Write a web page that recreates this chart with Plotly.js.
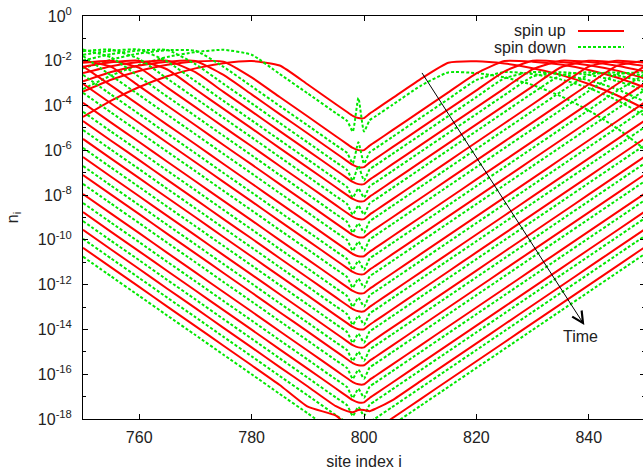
<!DOCTYPE html>
<html>
<head>
<meta charset="utf-8">
<script src="https://cdn.plot.ly/plotly-3.0.1.min.js"></script>
<style>
html,body{margin:0;padding:0;overflow:hidden;background:#fff;}
#chart{width:648px;height:472px;}
</style>
</head>
<body>
<div id="chart"></div>
<script>
// site index grid shared by all profiles
const siteIdx = [750,755,760,765,770,775,780,785,790,795,797,798,799,800,801,802,805,810,815,820,825,830,835,840,845,850];

// log10(n_i), spin up, one row per time step (top = earliest)
const spinUpLog10 = [
 [-4.51,-3.78,-3.17,-2.69,-2.34,-2.11,-2.01,-2.21,-3.06,-3.94,-4.29,-4.46,-4.56,-4.56,-4.36,-4.19,-3.68,-2.83,-2.09,-2.02,-2.12,-2.33,-2.63,-3.04,-3.54,-4.15],
 [-3.38,-2.85,-2.46,-2.18,-2.03,-2.04,-2.74,-3.62,-4.49,-5.37,-5.72,-5.89,-5.99,-5.99,-5.79,-5.62,-5.11,-4.26,-3.41,-2.56,-2.01,-2.04,-2.17,-2.41,-2.75,-3.19],
 [-2.92,-2.50,-2.21,-2.04,-2.01,-2.63,-3.50,-4.38,-5.25,-6.13,-6.48,-6.65,-6.75,-6.75,-6.55,-6.38,-5.87,-5.02,-4.17,-3.32,-2.47,-2.00,-2.05,-2.20,-2.44,-2.79],
 [-2.55,-2.24,-2.06,-2.00,-2.51,-3.39,-4.26,-5.14,-6.01,-6.89,-7.24,-7.41,-7.51,-7.51,-7.31,-7.14,-6.63,-5.78,-4.93,-4.08,-3.23,-2.38,-2.00,-2.06,-2.22,-2.48],
 [-2.27,-2.07,-2.00,-2.39,-3.27,-4.15,-5.02,-5.90,-6.77,-7.65,-8.00,-8.17,-8.27,-8.27,-8.07,-7.90,-7.39,-6.54,-5.69,-4.84,-3.99,-3.14,-2.30,-2.00,-2.07,-2.24],
 [-2.09,-2.00,-2.32,-3.20,-4.07,-4.95,-5.82,-6.70,-7.57,-8.45,-8.80,-8.97,-9.07,-9.07,-8.87,-8.70,-8.19,-7.34,-6.49,-5.64,-4.79,-3.94,-3.09,-2.26,-2.00,-2.08],
 [-2.00,-2.27,-3.13,-4.01,-4.88,-5.76,-6.63,-7.51,-8.38,-9.26,-9.61,-9.78,-9.88,-9.88,-9.68,-9.51,-9.00,-8.15,-7.30,-6.45,-5.60,-4.75,-3.90,-3.05,-2.23,-2.00],
 [-2.25,-3.11,-3.98,-4.86,-5.73,-6.61,-7.48,-8.36,-9.23,-10.11,-10.46,-10.63,-10.73,-10.73,-10.53,-10.36,-9.85,-9.00,-8.15,-7.30,-6.45,-5.60,-4.75,-3.90,-3.05,-2.23],
 [-3.03,-3.91,-4.78,-5.66,-6.53,-7.41,-8.28,-9.16,-10.03,-10.91,-11.26,-11.43,-11.53,-11.53,-11.33,-11.16,-10.65,-9.80,-8.95,-8.10,-7.25,-6.40,-5.55,-4.70,-3.85,-3.00],
 [-3.88,-4.76,-5.63,-6.51,-7.38,-8.26,-9.13,-10.01,-10.88,-11.76,-12.11,-12.28,-12.38,-12.38,-12.18,-12.01,-11.50,-10.65,-9.80,-8.95,-8.10,-7.25,-6.40,-5.55,-4.70,-3.85],
 [-4.69,-5.57,-6.44,-7.32,-8.19,-9.07,-9.94,-10.82,-11.69,-12.57,-12.92,-13.09,-13.19,-13.19,-12.99,-12.82,-12.31,-11.46,-10.61,-9.76,-8.91,-8.06,-7.21,-6.36,-5.51,-4.66],
 [-5.49,-6.37,-7.24,-8.12,-8.99,-9.87,-10.74,-11.62,-12.49,-13.37,-13.72,-13.89,-13.99,-13.99,-13.79,-13.62,-13.11,-12.26,-11.41,-10.56,-9.71,-8.86,-8.01,-7.16,-6.31,-5.46],
 [-6.30,-7.18,-8.05,-8.93,-9.80,-10.68,-11.55,-12.43,-13.30,-14.18,-14.53,-14.70,-14.80,-14.80,-14.60,-14.43,-13.92,-13.07,-12.22,-11.37,-10.52,-9.67,-8.82,-7.97,-7.12,-6.27],
 [-7.10,-7.98,-8.85,-9.73,-10.60,-11.48,-12.35,-13.23,-14.10,-14.98,-15.33,-15.50,-15.60,-15.60,-15.40,-15.23,-14.72,-13.87,-13.02,-12.17,-11.32,-10.47,-9.62,-8.77,-7.92,-7.07],
 [-7.95,-8.83,-9.70,-10.58,-11.45,-12.33,-13.20,-14.08,-14.95,-15.83,-16.18,-16.35,-16.45,-16.45,-16.25,-16.08,-15.57,-14.72,-13.87,-13.02,-12.17,-11.32,-10.47,-9.62,-8.77,-7.92],
 [-8.76,-9.64,-10.51,-11.39,-12.26,-13.14,-14.01,-14.89,-15.76,-16.64,-16.99,-17.16,-17.26,-17.26,-17.06,-16.89,-16.38,-15.53,-14.68,-13.83,-12.98,-12.13,-11.28,-10.43,-9.58,-8.73],
 [-9.55,-10.43,-11.30,-12.18,-13.05,-13.93,-14.80,-15.68,-16.55,-17.43,-17.65,-17.70,-17.60,-17.60,-17.65,-17.55,-17.17,-16.32,-15.47,-14.62,-13.77,-12.92,-12.07,-11.22,-10.37,-9.52],
 [-10.35,-11.23,-12.10,-12.98,-13.85,-14.73,-15.60,-16.48,-17.45,-17.85,-18.30,-18.75,-18.85,-18.85,-18.65,-18.48,-17.97,-17.12,-16.27,-15.42,-14.57,-13.72,-12.87,-12.02,-11.17,-10.32]
];

// log10(n_i), spin down, one row per time step
const spinDownLog10 = [
 [-3.26,-2.66,-2.18,-1.83,-1.61,-1.51,-1.73,-2.59,-3.46,-4.34,-4.69,-5.16,-3.66,-5.16,-4.66,-4.49,-3.98,-3.13,-2.52,-2.55,-2.74,-3.08,-3.58,-4.22,-5.01,-5.96],
 [-2.34,-1.95,-1.67,-1.53,-1.55,-2.27,-3.14,-4.02,-4.89,-5.77,-6.12,-6.59,-5.64,-6.59,-6.09,-5.92,-5.41,-4.56,-3.71,-2.86,-2.50,-2.59,-2.83,-3.22,-3.76,-4.46],
 [-1.99,-1.70,-1.54,-1.52,-2.15,-3.03,-3.90,-4.78,-5.65,-6.53,-6.88,-7.35,-6.70,-7.35,-6.85,-6.68,-6.17,-5.32,-4.47,-3.62,-2.78,-2.50,-2.61,-2.87,-3.27,-3.83],
 [-1.73,-1.55,-1.50,-2.04,-2.91,-3.79,-4.66,-5.54,-6.41,-7.29,-7.64,-8.11,-7.71,-8.11,-7.61,-7.44,-6.93,-6.08,-5.23,-4.38,-3.53,-2.71,-2.51,-2.63,-2.90,-3.33],
 [-1.57,-1.50,-1.92,-2.80,-3.67,-4.55,-5.42,-6.30,-7.17,-8.05,-8.40,-8.87,-8.47,-8.87,-8.37,-8.20,-7.69,-6.84,-5.99,-5.14,-4.29,-3.44,-2.65,-2.51,-2.65,-2.94],
 [-1.50,-1.85,-2.72,-3.60,-4.47,-5.35,-6.22,-7.10,-7.97,-8.85,-9.20,-9.67,-9.27,-9.67,-9.17,-9.00,-8.49,-7.64,-6.79,-5.94,-5.09,-4.24,-3.39,-2.62,-2.52,-2.67],
 [-1.79,-2.66,-3.53,-4.41,-5.28,-6.16,-7.03,-7.91,-8.78,-9.66,-10.01,-10.48,-10.08,-10.48,-9.98,-9.81,-9.30,-8.45,-7.60,-6.75,-5.90,-5.05,-4.20,-3.35,-2.60,-2.52],
 [-2.63,-3.51,-4.38,-5.26,-6.13,-7.01,-7.88,-8.76,-9.63,-10.51,-10.86,-11.33,-10.93,-11.33,-10.83,-10.66,-10.15,-9.30,-8.45,-7.60,-6.75,-5.90,-5.05,-4.20,-3.35,-2.60],
 [-3.43,-4.31,-5.18,-6.06,-6.93,-7.81,-8.68,-9.56,-10.43,-11.31,-11.66,-12.13,-11.73,-12.13,-11.63,-11.46,-10.95,-10.10,-9.25,-8.40,-7.55,-6.70,-5.85,-5.00,-4.15,-3.30],
 [-4.28,-5.16,-6.03,-6.91,-7.78,-8.66,-9.53,-10.41,-11.28,-12.16,-12.51,-12.98,-12.58,-12.98,-12.48,-12.31,-11.80,-10.95,-10.10,-9.25,-8.40,-7.55,-6.70,-5.85,-5.00,-4.15],
 [-5.09,-5.97,-6.84,-7.72,-8.59,-9.47,-10.34,-11.22,-12.09,-12.97,-13.32,-13.79,-13.39,-13.79,-13.29,-13.12,-12.61,-11.76,-10.91,-10.06,-9.21,-8.36,-7.51,-6.66,-5.81,-4.96],
 [-5.89,-6.77,-7.64,-8.52,-9.39,-10.27,-11.14,-12.02,-12.89,-13.77,-14.12,-14.59,-14.19,-14.59,-14.09,-13.92,-13.41,-12.56,-11.71,-10.86,-10.01,-9.16,-8.31,-7.46,-6.61,-5.76],
 [-6.70,-7.58,-8.45,-9.33,-10.20,-11.08,-11.95,-12.83,-13.70,-14.58,-14.93,-15.40,-15.00,-15.40,-14.90,-14.73,-14.22,-13.37,-12.52,-11.67,-10.82,-9.97,-9.12,-8.27,-7.42,-6.57],
 [-7.50,-8.38,-9.25,-10.13,-11.00,-11.88,-12.75,-13.63,-14.50,-15.38,-15.73,-16.20,-15.80,-16.20,-15.70,-15.53,-15.02,-14.17,-13.32,-12.47,-11.62,-10.77,-9.92,-9.07,-8.22,-7.37],
 [-8.35,-9.23,-10.10,-10.98,-11.85,-12.73,-13.60,-14.48,-15.35,-16.23,-16.58,-17.05,-16.65,-17.05,-16.55,-16.38,-15.87,-15.02,-14.17,-13.32,-12.47,-11.62,-10.77,-9.92,-9.07,-8.22],
 [-9.16,-10.04,-10.91,-11.79,-12.66,-13.54,-14.41,-15.29,-16.16,-17.04,-17.39,-17.86,-17.46,-17.86,-17.36,-17.19,-16.68,-15.83,-14.98,-14.13,-13.28,-12.43,-11.58,-10.73,-9.88,-9.03],
 [-9.95,-10.83,-11.70,-12.58,-13.45,-14.33,-15.20,-16.08,-16.95,-17.83,-18.18,-18.65,-18.25,-18.65,-18.15,-17.98,-17.47,-16.62,-15.77,-14.92,-14.07,-13.22,-12.37,-11.52,-10.67,-9.82],
 [-10.75,-11.63,-12.50,-13.38,-14.25,-15.13,-16.00,-16.88,-17.75,-18.63,-18.98,-19.45,-19.05,-19.45,-18.95,-18.78,-18.27,-17.42,-16.57,-15.72,-14.87,-14.02,-13.17,-12.32,-11.47,-10.62]
];

const seriesNames = ['spin up','spin down'];
const xTicks = [760,780,800,820,840];
const yMajorExp = [0,-2,-4,-6,-8,-10,-12,-14,-16,-18];
const yMinorExp = [-1,-3,-5,-7,-9,-11,-13,-15,-17];
const arrowLabel = 'Time';

const RED = 'rgb(255,0,0)';
const GREEN = 'rgb(0,232,0)';
const FONT = 'Liberation Sans, Arial, Helvetica, sans-serif';
const TXT = '#222';

const toLin = a => a.map(v => Math.pow(10, v));
const traces = [];
for (let k = 0; k < spinUpLog10.length; k++) {
  traces.push({x: siteIdx, y: toLin(spinUpLog10[k]), type: 'scatter', mode: 'lines', name: seriesNames[0],
    showlegend: false, line: {color: RED, width: 2, shape: 'spline', smoothing: 0.5}, hoverinfo: 'skip'});
  traces.push({x: siteIdx, y: toLin(spinDownLog10[k]), type: 'scatter', mode: 'lines', name: seriesNames[1],
    showlegend: false, line: {color: GREEN, width: 2, dash: '3px,2px', shape: 'spline', smoothing: 0.5}, hoverinfo: 'skip'});
}

const plotW = 648 - 83 - 3, plotH = 472 - 16 - 53;
const px = v => (v - 83) / plotW;
const py = v => 1 - (v - 16) / plotH;

const layout = {
  width: 648, height: 472,
  margin: {l: 83, r: 3, t: 16, b: 53},
  paper_bgcolor: '#fff', plot_bgcolor: '#fff',
  showlegend: false,
  font: {family: FONT, size: 16, color: TXT},
  xaxis: {
    range: [750, 850], showgrid: false, zeroline: false,
    showline: true, linecolor: '#000', linewidth: 1, mirror: 'ticks',
    ticks: 'inside', ticklen: 5, tickcolor: '#000', tickmode: 'array', tickvals: xTicks,
    tickfont: {family: FONT, size: 16, color: TXT},
    ticklabelstandoff: 4,
    title: {text: 'site index i', font: {family: FONT, size: 16, color: TXT}, standoff: 10}
  },
  yaxis: {
    type: 'log', range: [-18, 0], showgrid: false, zeroline: false,
    showline: true, linecolor: '#000', linewidth: 1, mirror: 'ticks',
    ticks: 'inside', ticklen: 5, tickcolor: '#000', tickmode: 'array',
    tickvals: yMajorExp.map(e => Math.pow(10, e)),
    ticktext: yMajorExp.map(e => '10<sup>' + e + '</sup>'),
    tickfont: {family: FONT, size: 16, color: TXT},
    ticklabelstandoff: 7,
    minor: {tickmode: 'array', tickvals: yMinorExp.map(e => Math.pow(10, e)), ticks: 'inside', ticklen: 3, tickcolor: '#000', showgrid: false},
    title: {text: 'n<sub>i</sub>', font: {family: FONT, size: 16, color: TXT}, standoff: 15}
  },
  annotations: [
    {x: 839.2, y: -13.8, ax: 809.7, ay: -2.3, xref: 'x', yref: 'y', axref: 'x', ayref: 'y',
     showarrow: true, arrowhead: 5, arrowsize: 2.2, arrowwidth: 1, arrowcolor: '#000', text: ' '},
    {x: 838.6, y: -14.3, xref: 'x', yref: 'y', text: arrowLabel, showarrow: false,
     font: {family: FONT, size: 16, color: TXT}},
    {x: px(567), y: py(30), xref: 'paper', yref: 'paper', text: seriesNames[0], showarrow: false, xanchor: 'right', yanchor: 'middle',
     borderpad: 0, font: {family: FONT, size: 16, color: TXT}},
    {x: px(567), y: py(48), xref: 'paper', yref: 'paper', text: seriesNames[1], showarrow: false, xanchor: 'right', yanchor: 'middle',
     borderpad: 0, font: {family: FONT, size: 16, color: TXT}}
  ],
  shapes: [
    {type: 'line', xref: 'paper', yref: 'paper', x0: px(578), x1: px(624), y0: py(31), y1: py(31), line: {color: RED, width: 2}},
    {type: 'line', xref: 'paper', yref: 'paper', x0: px(578), x1: px(624), y0: py(47), y1: py(47), line: {color: GREEN, width: 2, dash: '3px,2px'}}
  ]
};

Plotly.newPlot('chart', traces, layout, {staticPlot: true, displayModeBar: false});
</script>
</body>
</html>
